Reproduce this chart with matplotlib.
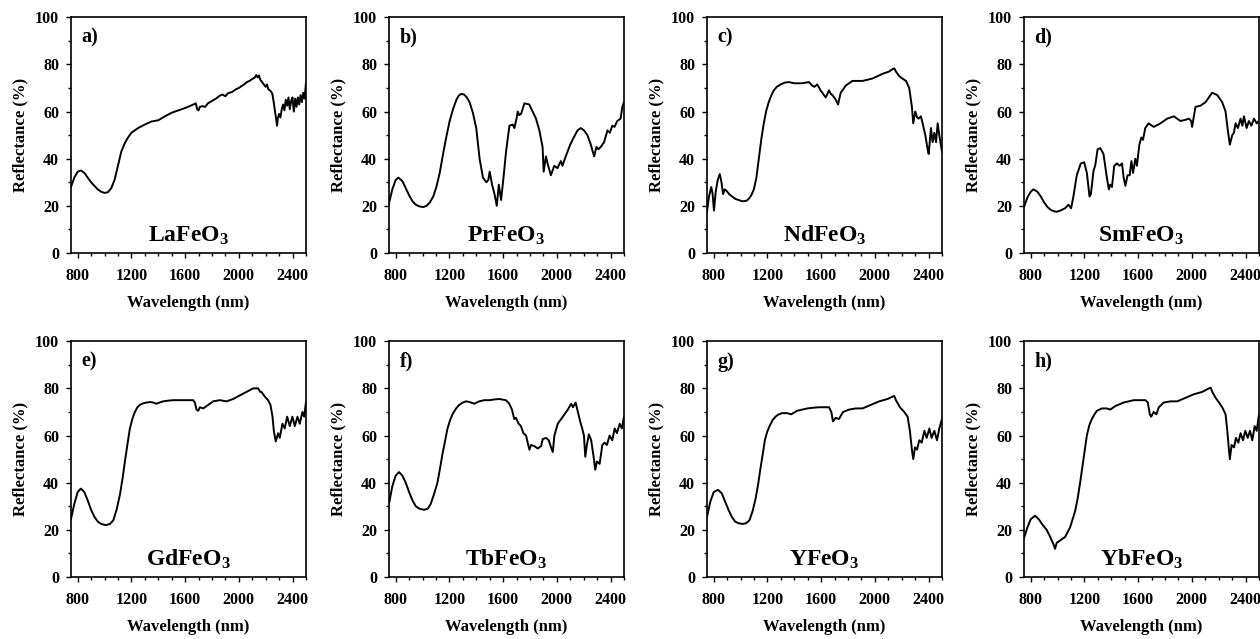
import matplotlib.pyplot as plt
from matplotlib.ticker import MultipleLocator

plt.rcParams['font.family'] = 'Liberation Serif'
plt.rcParams['font.weight'] = 'bold'
plt.rcParams['mathtext.fontset'] = 'custom'
plt.rcParams['mathtext.rm'] = 'Liberation Serif:bold'
plt.rcParams['mathtext.it'] = 'Liberation Serif:bold'
plt.rcParams['mathtext.bf'] = 'Liberation Serif:bold'

# a) LaFeO3
wl_a = [750, 775, 800, 825, 850, 875, 900, 925, 950, 975, 1000, 1025, 1050, 1075, 1100,
        1125, 1150, 1175, 1200, 1250, 1300, 1350, 1400, 1450, 1500, 1550, 1600, 1650, 1680,
        1690, 1700, 1710, 1730, 1750, 1770, 1800, 1830, 1860, 1880, 1900, 1920, 1950, 1980,
        2000, 2020, 2040, 2060, 2080, 2100, 2120, 2130, 2140, 2150, 2160, 2180, 2200, 2210,
        2220, 2240, 2250, 2260, 2270, 2280, 2285, 2290, 2300, 2310, 2320, 2330, 2340, 2350,
        2360, 2370, 2380, 2390, 2400, 2410, 2420, 2430, 2440, 2450, 2460, 2470, 2480, 2490, 2500]
r_a = [28, 32, 34.5, 35, 34, 32, 30, 28.5, 27, 26, 25.5, 25.8, 27.5, 31, 37,
       43, 46.5, 49, 51, 53, 54.5, 55.8, 56.3, 58, 59.5, 60.5, 61.5, 62.7, 63.5,
       61, 60.5, 62, 62.3, 62, 63.5, 64.5, 65.5, 66.8, 67.2, 66.5, 67.8, 68.3, 69.5,
       70, 70.8, 71.5, 72.5, 73, 73.8, 74.5, 75.5, 74.5, 75.3, 73.5, 72, 70.5, 71.5,
       69.5, 68.5, 67.5, 64, 60, 56, 54, 57, 59, 57.5, 61, 63, 60.5, 65,
       62.5, 66, 61, 64.5, 66, 60, 65.5, 62, 66, 63, 67, 64, 68, 65.5, 72]

# b) PrFeO3
wl_b = [750, 775, 800, 820, 850, 875, 900, 925, 950, 975, 1005, 1030, 1055, 1080, 1103,
        1128, 1153, 1178, 1202, 1227, 1252, 1270, 1289, 1310, 1330, 1350, 1375, 1400, 1425,
        1450, 1475, 1490, 1500, 1518, 1536, 1553, 1568, 1585, 1603, 1622, 1647, 1672, 1684,
        1700, 1709, 1720, 1734, 1759, 1795, 1820, 1845, 1870, 1894, 1902, 1919, 1931, 1956,
        1981, 2005, 2030, 2042, 2060, 2080, 2100, 2117, 2140, 2154, 2178, 2203, 2228, 2253,
        2278, 2295, 2310, 2327, 2352, 2377, 2395, 2413, 2430, 2450, 2475, 2488, 2500]
r_b = [21, 27, 31, 32, 30.5, 27.5, 24.5, 22, 20.5, 19.8, 19.5, 20, 21.5, 24, 28,
       34, 42, 49.5, 56, 61, 65, 66.8, 67.5, 67.2, 66, 64, 59.5, 53, 40,
       32, 30, 31, 34.5, 29, 25, 20, 29, 22.5, 32, 43, 54, 54.5, 53,
       57, 60, 58.5, 59, 63.5, 63, 60, 57, 52, 45, 34.5, 41, 38, 33,
       37, 36, 39, 37, 40, 43, 46, 48, 50.5, 52, 53, 52, 50, 46,
       41, 45, 44, 45, 47, 52, 51, 54, 53.5, 56, 57, 62, 64]

# c) NdFeO3
wl_c = [750, 765, 782, 792, 802, 815, 830, 845, 858, 870, 882, 894, 915, 937, 960,
        986, 1010, 1024, 1045, 1061, 1080, 1099, 1118, 1136, 1155, 1173, 1192, 1210, 1230,
        1248, 1270, 1298, 1330, 1360, 1400, 1459, 1509, 1534, 1550, 1571, 1596, 1621, 1634,
        1647, 1659, 1672, 1684, 1697, 1709, 1726, 1746, 1765, 1783, 1833, 1870, 1908, 1945,
        1982, 2020, 2057, 2082, 2107, 2132, 2145, 2157, 2182, 2205, 2232, 2256, 2276, 2286,
        2301, 2315, 2326, 2343, 2356, 2376, 2393, 2401, 2418, 2430, 2443, 2456, 2468, 2480, 2500]
r_c = [17.5, 24, 28, 25, 18, 26, 31, 33.5, 30, 25, 27, 26.5, 25, 24, 23,
       22.5, 22, 22, 22.2, 23, 24.5, 27, 32, 40, 48.5, 55, 60.5, 64, 67,
       69, 70.5, 71.5, 72.3, 72.5, 72, 72, 72.5, 71, 70.5, 71.5, 69, 67, 66,
       67.5, 69, 67.5, 67, 66, 65, 63, 68, 69.5, 71, 73, 73, 73, 73.5,
       74, 75, 76, 76.5, 77, 78, 78.3, 77, 75, 74, 73, 70, 62, 55,
       60, 57.5, 57, 58, 55, 50, 44, 42, 53, 47, 51, 47, 55, 50, 43]

# d) SmFeO3
wl_d = [750, 775, 800, 820, 850, 875, 900, 925, 950, 975, 994, 1020, 1056, 1081, 1101,
        1118, 1143, 1173, 1198, 1218, 1238, 1248, 1268, 1280, 1298, 1318, 1342, 1367, 1382,
        1392, 1405, 1422, 1442, 1462, 1480, 1492, 1505, 1521, 1537, 1550, 1562, 1579, 1591,
        1609, 1624, 1636, 1653, 1678, 1716, 1766, 1816, 1866, 1890, 1915, 1952, 1977, 1995,
        2002, 2015, 2027, 2065, 2102, 2139, 2151, 2170, 2189, 2226, 2251, 2268, 2283, 2301,
        2313, 2326, 2343, 2363, 2376, 2388, 2408, 2425, 2443, 2463, 2483, 2500]
r_d = [19.5, 23.5, 26, 27, 26, 24, 21.5, 19.5, 18.3, 17.7, 17.5, 18, 19, 20.5, 19,
       24, 33, 38, 38.5, 34, 24, 25, 35, 37, 44, 44.5, 42, 32, 27,
       29, 28, 37, 38, 37, 38, 32, 28.5, 33, 33, 39, 34, 40, 37,
       46, 49, 48, 53, 55, 53.5, 55, 57, 58, 57, 56, 56.5, 57, 56,
       53.5, 58, 62, 62.5, 64, 67, 68, 67.5, 67, 64, 60, 52, 46, 50,
       51, 55, 53, 57, 54, 58, 53, 56, 54, 57, 55, 56]

# e) GdFeO3
wl_e = [750, 775, 800, 824, 850, 875, 900, 925, 950, 975, 1010, 1040, 1065, 1090, 1115,
        1135, 1152, 1170, 1189, 1207, 1226, 1245, 1263, 1290, 1313, 1340, 1362, 1387, 1410,
        1437, 1475, 1511, 1550, 1586, 1625, 1660, 1673, 1685, 1698, 1710, 1735, 1772, 1809,
        1859, 1908, 1958, 2007, 2057, 2107, 2144, 2160, 2169, 2194, 2218, 2236, 2251, 2261,
        2275, 2293, 2305, 2325, 2342, 2360, 2380, 2399, 2417, 2437, 2454, 2474, 2487, 2500]
r_e = [24.5, 31, 36, 37.5, 36, 32.5, 28.5, 25.5, 23.5, 22.5, 22, 22.5, 24, 28.5, 35,
       42, 49, 56, 63, 67, 70, 72, 73, 73.7, 74, 74.2, 74, 73.5, 74,
       74.5, 74.8, 75, 75, 75, 75, 75, 74, 71, 70.5, 72, 71.5, 73, 74.5,
       75, 74.5, 75.5, 77, 78.5, 80, 80, 78.5, 78.5, 76.5, 75, 73, 68, 62,
       57.5, 61, 59, 65, 63, 68, 64, 68, 64, 68, 65, 70, 68, 74]

# f) TbFeO3
wl_f = [750, 775, 800, 825, 850, 875, 900, 925, 950, 975, 1011, 1040, 1061, 1085, 1111,
        1130, 1148, 1167, 1186, 1205, 1223, 1250, 1273, 1300, 1323, 1345, 1360, 1385, 1422,
        1460, 1497, 1535, 1571, 1621, 1646, 1666, 1683, 1696, 1716, 1733, 1751, 1771, 1783,
        1796, 1808, 1833, 1858, 1883, 1895, 1920, 1940, 1957, 1970, 1982, 2007, 2045, 2082,
        2107, 2120, 2140, 2157, 2174, 2189, 2202, 2212, 2224, 2239, 2256, 2274, 2286, 2299,
        2319, 2339, 2356, 2373, 2393, 2413, 2431, 2448, 2468, 2485, 2500]
r_f = [31, 38.5, 43, 44.5, 43, 40, 36, 32.5, 30, 29, 28.5, 29, 31, 35, 40,
       46, 52, 57.5, 63, 66.5, 69, 71.5, 73, 74, 74.5, 74.3, 74, 73.5, 74.5,
       75, 75, 75.3, 75.5, 75, 73.5, 71, 67, 67.5, 65, 64, 61, 60, 57,
       54, 56, 55.5, 54.5, 55.5, 58.5, 59, 58, 55, 53, 60, 65, 68, 71,
       73.5, 72, 74, 70, 66, 63, 60, 51, 56, 60.5, 58, 51, 45.5, 49,
       48, 56, 57, 56, 60, 58, 63, 61, 65, 63, 68]

# g) YFeO3
wl_g = [750, 775, 800, 832, 860, 885, 910, 935, 960, 985, 1016, 1040, 1066, 1090, 1111,
        1130, 1148, 1165, 1181, 1198, 1216, 1238, 1260, 1285, 1310, 1347, 1377, 1422, 1460,
        1497, 1540, 1584, 1620, 1659, 1676, 1688, 1708, 1733, 1763, 1808, 1858, 1908, 1970,
        2032, 2095, 2132, 2145, 2157, 2187, 2219, 2244, 2261, 2276, 2286, 2299, 2314, 2331,
        2349, 2369, 2386, 2406, 2423, 2443, 2463, 2480, 2500]
r_g = [25.5, 32, 36, 37, 35.5, 32, 28.5, 25.5, 23.5, 22.8, 22.5, 22.8, 24, 28, 33,
       39, 46, 52, 58, 61.5, 64, 66.5, 68, 69, 69.5, 69.5, 69, 70.5, 71,
       71.5, 71.8, 72, 72, 72, 70, 66, 67.5, 67, 70, 71, 71.5, 71.5, 73,
       74.5, 75.5, 76.5, 76.8, 75, 72, 70, 68, 62, 54, 50, 55, 54, 58,
       57, 62, 59, 63, 59, 62, 58, 63, 67]

# h) YbFeO3
wl_h = [750, 775, 800, 832, 860, 890, 919, 945, 969, 981, 994, 1019, 1056, 1093, 1131,
        1150, 1168, 1193, 1218, 1237, 1255, 1275, 1293, 1330, 1367, 1392, 1430, 1492, 1567,
        1654, 1672, 1687, 1697, 1716, 1736, 1754, 1791, 1841, 1891, 1953, 2015, 2077, 2127,
        2140, 2152, 2177, 2202, 2226, 2251, 2264, 2276, 2283, 2296, 2314, 2328, 2346, 2363,
        2381, 2398, 2416, 2433, 2450, 2468, 2483, 2500]
r_h = [16.5, 21, 24.5, 26, 24.5, 22, 20, 17, 14, 12, 14.5, 15.5, 17, 21, 28,
       33.5, 40, 50, 60, 64.5, 67, 69, 70.5, 71.5, 71.5, 71, 72.5, 74, 75,
       75, 74, 69, 68, 70, 69, 72, 74, 74.5, 74.5, 76, 77.5, 78.5, 80,
       80.3, 78.5, 76, 74, 72, 69, 62, 54, 50, 56, 55, 59, 57, 61,
       58, 62, 59, 62, 58, 64, 62, 69]

panels = [
    ('a)', 'LaFeO$_3$', wl_a, r_a),
    ('b)', 'PrFeO$_3$', wl_b, r_b),
    ('c)', 'NdFeO$_3$', wl_c, r_c),
    ('d)', 'SmFeO$_3$', wl_d, r_d),
    ('e)', 'GdFeO$_3$', wl_e, r_e),
    ('f)', 'TbFeO$_3$', wl_f, r_f),
    ('g)', 'YFeO$_3$', wl_g, r_g),
    ('h)', 'YbFeO$_3$', wl_h, r_h),
]

fig = plt.figure(figsize=(12.6, 6.39), dpi=100)
lefts = [0.0563, 0.3087, 0.5611, 0.8127]
bottoms = [0.604, 0.097]

for i, (letra, nombre, wl, r) in enumerate(panels):
    ax = fig.add_axes([lefts[i % 4], bottoms[i // 4], 0.1865, 0.369])
    ax.plot(wl, r, color='black', lw=1.4)
    ax.set_xlim(750, 2500)
    ax.set_ylim(0, 100)
    ax.set_xticks([800, 1200, 1600, 2000, 2400])
    ax.set_yticks([0, 20, 40, 60, 80, 100])
    ax.xaxis.set_minor_locator(MultipleLocator(100))
    ax.yaxis.set_minor_locator(MultipleLocator(10))
    ax.tick_params(which='major', direction='out', length=3.5, width=1, labelsize=11.5)
    ax.tick_params(which='minor', direction='out', length=2, width=1)
    ax.tick_params(axis='x', which='major', pad=7)
    ax.tick_params(axis='y', which='major', pad=5)
    for s in ax.spines.values():
        s.set_linewidth(1.2)
    ax.set_xlabel('Wavelength (nm)', fontsize=12, fontweight='bold', labelpad=8)
    ax.set_ylabel('Reflectance (%)', fontsize=12, fontweight='bold', labelpad=5)
    ax.text(0.045, 0.955, letra, transform=ax.transAxes, fontsize=14.5,
            fontweight='bold', va='top', ha='left')
    ax.text(0.5, 0.05, nombre, transform=ax.transAxes, fontsize=17,
            fontweight='bold', va='baseline', ha='center')

plt.savefig('out.png', dpi=100)
